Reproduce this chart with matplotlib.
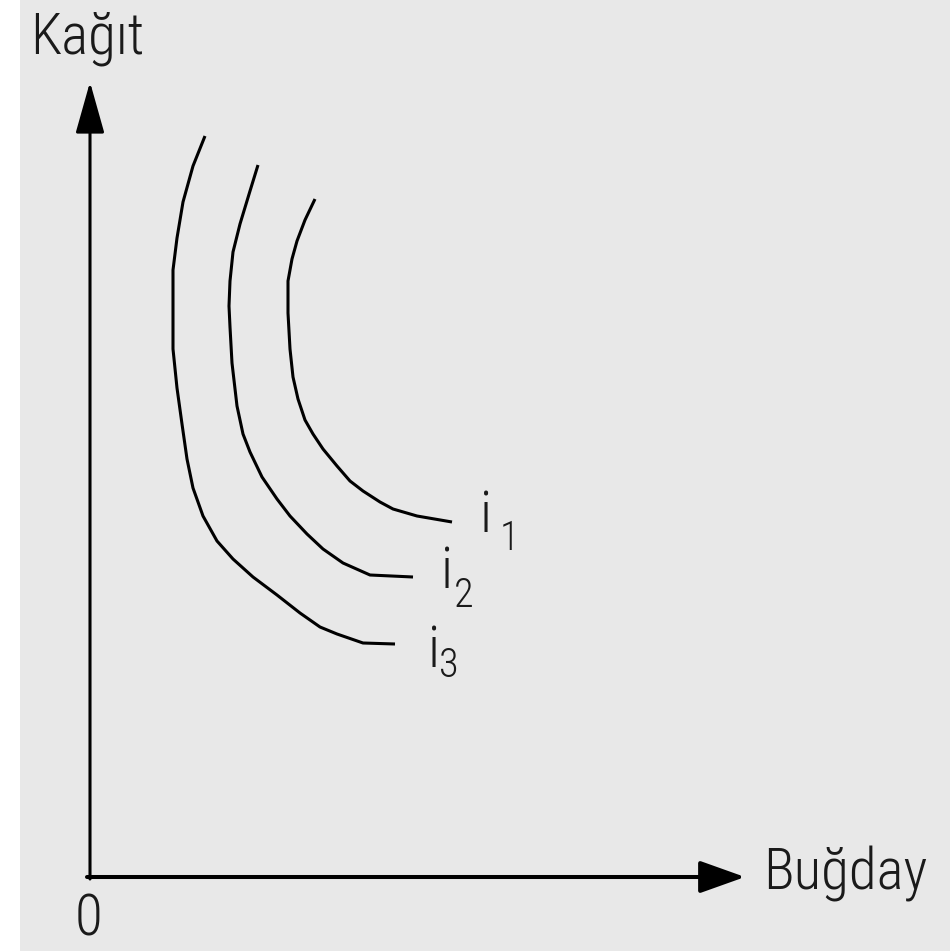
import matplotlib.pyplot as plt
from matplotlib import font_manager

# kayitsizlik egrileri (orijin eksenlerin kesistigi nokta)
i3_x = [115, 103, 93, 87, 83, 83, 83, 87, 92, 97, 103, 113, 127, 143, 163, 187, 210, 230, 247, 273, 305]
i3_y = [741, 711, 675, 639, 607, 568, 528, 489, 453, 418, 389, 361, 336, 318, 300, 282, 264, 250, 243, 234, 233]

i2_x = [168, 160, 150, 143, 140, 139, 140, 142, 147, 153, 160, 172, 187, 200, 217, 233, 253, 280, 323]
i2_y = [712, 686, 653, 625, 596, 571, 550, 514, 471, 443, 425, 400, 378, 361, 343, 328, 314, 302, 300]

i1_x = [225, 215, 207, 202, 198, 198, 200, 203, 208, 215, 223, 233, 247, 260, 273, 290, 303, 327, 362]
i1_y = [678, 657, 636, 618, 596, 564, 528, 500, 478, 457, 443, 428, 411, 396, 386, 375, 368, 361, 355]

eksen_x_son = 655
eksen_y_son = 795

adlar = ['Roboto Condensed', 'Archivo Narrow', 'Liberation Sans', 'DejaVu Sans']
yuklu = {f.name for f in font_manager.fontManager.ttflist}
aile = [a for a in adlar if a in yuklu] + ['DejaVu Sans']

fig = plt.figure(figsize=(9.53, 9.51), dpi=100, facecolor='white')
ax = fig.add_axes([20 / 953, 0, 930 / 953, 1])
ax.set_facecolor('#e8e8e8')
ax.set_xlim(-70, 860)
ax.set_ylim(-74, 877)
for s in ax.spines.values():
    s.set_visible(False)
ax.set_xticks([])
ax.set_yticks([])

renk = '#000000'
ax.plot(i1_x, i1_y, color=renk, lw=2.2, solid_capstyle='butt')
ax.plot(i2_x, i2_y, color=renk, lw=2.2, solid_capstyle='butt')
ax.plot(i3_x, i3_y, color=renk, lw=2.2, solid_capstyle='butt')

# eksenler
ax.annotate('', xy=(eksen_x_son, 0), xytext=(-3, 0),
            arrowprops=dict(arrowstyle='-|>,head_length=1.4,head_width=0.5',
                            mutation_scale=20, lw=2.9, color=renk,
                            shrinkA=0, shrinkB=0))
ax.annotate('', xy=(0, eksen_y_son), xytext=(0, -2),
            arrowprops=dict(arrowstyle='-|>,head_length=1.6,head_width=0.45',
                            mutation_scale=20, lw=2.2, color=renk,
                            shrinkA=0, shrinkB=0))

yazi = dict(family=aile, color='#1a1a1a', ha='left', va='baseline', fontweight='light')
ax.text(-60, 824, 'Kağıt', fontsize=41, **yazi)
ax.text(673, -13, 'Buğday', fontsize=41, **yazi)
ax.text(-15, -58, '0', fontsize=41, **yazi)

ax.text(390, 345, 'i', fontsize=41, **yazi)
ax.text(410, 327, '1', fontsize=29, **yazi)
ax.text(351, 289, 'i', fontsize=41, **yazi)
ax.text(364, 270, '2', fontsize=29, **yazi)
ax.text(338, 210, 'i', fontsize=41, **yazi)
ax.text(349, 200, '3', fontsize=29, **yazi)

fig.savefig('out.png', dpi=100, facecolor='white')
